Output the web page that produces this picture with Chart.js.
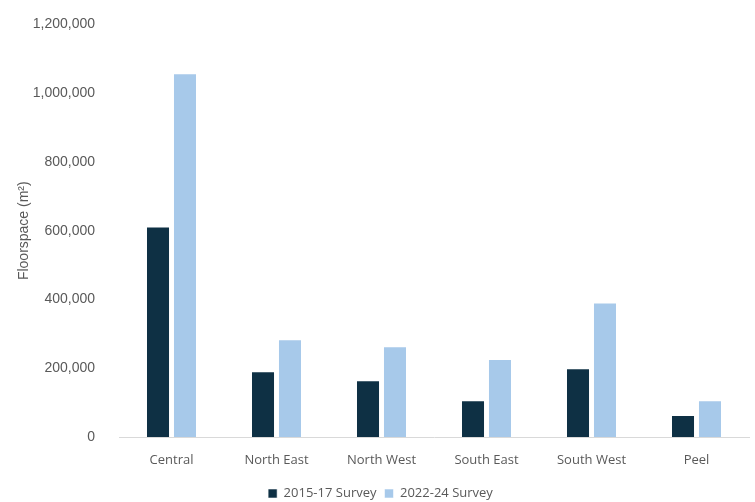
<!DOCTYPE html>
<html>
<head>
<meta charset="utf-8">
<script src="https://cdn.jsdelivr.net/npm/chart.js@4/dist/chart.umd.min.js"></script>
<style>
  html, body { margin: 0; padding: 0; background: #ffffff; }
  #wrap { width: 755px; height: 502px; position: relative; }
</style>
</head>
<body>
<div id="wrap"><canvas id="barChart"></canvas></div>
<script>
// Regions along the x axis
const regions = ['Central', 'North East', 'North West', 'South East', 'South West', 'Peel'];

// Floorspace (m2) per survey
const survey2015 = [612000, 191000, 165000, 107000, 200000, 64000];
const survey2022 = [1058000, 284000, 264000, 227000, 391000, 107000];

// Y axis tick values
const yTicks = [0, 200000, 400000, 600000, 800000, 1000000, 1200000];

const ctx = document.getElementById('barChart').getContext('2d');

const barChart = new Chart(ctx, {
  type: 'bar',
  data: {
    labels: regions,
    datasets: [
      {
        label: '2015-17 Survey',
        data: survey2015,
        backgroundColor: '#0e3044',
        borderColor: 'rgba(255,255,255,0.55)',
        borderWidth: 1,
        categoryPercentage: 0.514,
        barPercentage: 0.89
      },
      {
        label: '2022-24 Survey',
        data: survey2022,
        backgroundColor: '#a7c9ea',
        borderColor: 'rgba(255,255,255,0.55)',
        borderWidth: 1,
        categoryPercentage: 0.514,
        barPercentage: 0.89
      }
    ]
  },
  options: {
    responsive: true,
    maintainAspectRatio: false,
    animation: false,
    layout: { padding: { left: 12, right: 6, top: 13, bottom: -8 } },
    scales: {
      x: {
        grid: { display: false },
        border: { color: '#d9d9d9', width: 1 },
        ticks: {
          color: '#595959',
          font: { family: 'Open Sans', size: 13 },
          padding: 7
        },
        afterFit: axis => { axis.height = 42; }
      },
      y: {
        min: 0,
        max: 1200000,
        afterBuildTicks: axis => { axis.ticks = yTicks.map(v => ({ value: v })); },
        afterFit: axis => { axis.width = 107; },
        grid: { display: false },
        border: { display: false },
        ticks: {
          color: '#595959',
          font: { family: 'Liberation Sans', size: 14 },
          padding: 16,
          callback: v => v.toLocaleString('en-US')
        },
        title: {
          display: true,
          text: 'Floorspace (m²)',
          color: '#595959',
          font: { family: 'Liberation Sans', size: 14 },
          padding: 4
        }
      }
    },
    plugins: {
      legend: {
        position: 'bottom',
        labels: {
          color: '#595959',
          font: { family: 'Open Sans', size: 13 },
          boxWidth: 9,
          boxHeight: 9,
          padding: 8
        }
      },
      tooltip: { enabled: false }
    }
  }
});
</script>
</body>
</html>
